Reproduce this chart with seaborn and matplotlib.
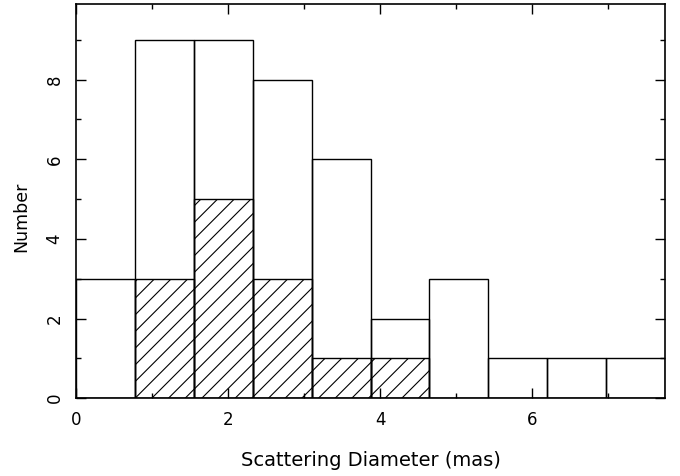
import numpy as np
import pandas as pd
import seaborn as sns
import matplotlib.pyplot as plt
from matplotlib.ticker import MultipleLocator

# bin edges (mas) and counts
bin_edges = [0.0, 0.775, 1.55, 2.325, 3.1, 3.875, 4.65, 5.425, 6.2, 6.975, 7.75]
all_counts = [3, 9, 9, 8, 6, 2, 3, 1, 1, 1]
hatched_counts = [0, 3, 5, 3, 1, 1, 0, 0, 0, 0]

centers = [(a + b) / 2 for a, b in zip(bin_edges[:-1], bin_edges[1:])]
df = pd.DataFrame({"diameter": centers, "all": all_counts, "sub": hatched_counts})

sns.set_theme(style="ticks")
plt.rcParams["font.family"] = ["DejaVu Sans"]
plt.rcParams["hatch.linewidth"] = 0.8

fig = plt.figure(figsize=(6.8, 4.76), dpi=100)
ax = fig.add_axes([0.1118, 0.1635, 0.8662, 0.828])

sns.histplot(data=df, x="diameter", weights="all", bins=bin_edges, ax=ax,
             fill=False, color="black", linewidth=1.0, element="bars")
sns.histplot(data=df[df["sub"] > 0], x="diameter", weights="sub", bins=bin_edges, ax=ax,
             fill=False, color="black", linewidth=1.0, element="bars", hatch="//")

ax.set_xlim(0, 7.75)
ax.set_ylim(0, 9.9)
ax.xaxis.set_major_locator(MultipleLocator(2))
ax.xaxis.set_minor_locator(MultipleLocator(1))
ax.yaxis.set_major_locator(MultipleLocator(2))
ax.yaxis.set_minor_locator(MultipleLocator(1))
ax.tick_params(which="both", direction="in", top=True, right=True, width=1.0,
               labelsize=12, colors="black")
ax.tick_params(which="major", length=7.5, pad=9)
ax.tick_params(which="minor", length=3.8)
for lbl in ax.get_yticklabels():
    lbl.set_rotation(90)
    lbl.set_va("center")
for s in ax.spines.values():
    s.set_linewidth(1.2)
    s.set_color("black")

ax.set_xlabel("Scattering Diameter (mas)", fontsize=14, labelpad=16, color="black")
ax.set_ylabel("Number", fontsize=12.5, labelpad=11, color="black")
ax.yaxis.label.set_y(0.46)  # label sits a bit below the axis middle

fig.savefig("out.png", dpi=100)
